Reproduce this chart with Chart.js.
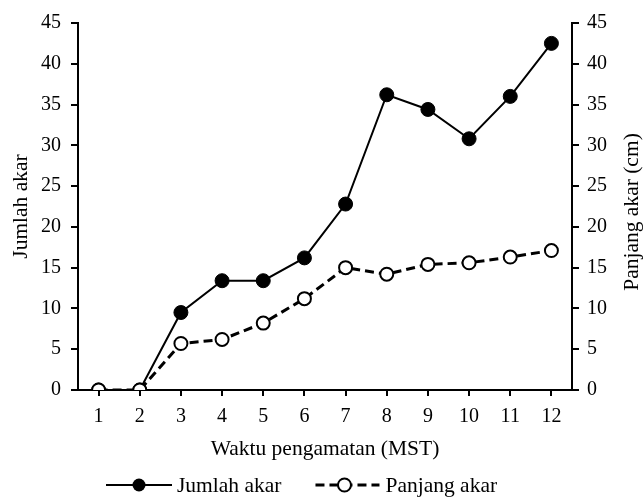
<!DOCTYPE html>
<html>
<head>
<meta charset="utf-8">
<script src="https://cdn.jsdelivr.net/npm/chart.js@4"></script>
<style>
  html, body { margin: 0; padding: 0; background: #fff; }
  #wrap { width: 643px; height: 500px; }
</style>
</head>
<body>
<div id="wrap"><canvas id="rootChart" width="643" height="500"></canvas></div>
<script>
// data
const weeks = ['1', '2', '3', '4', '5', '6', '7', '8', '9', '10', '11', '12'];
const jumlahAkar = [0, 0, 9.5, 13.4, 13.4, 16.2, 22.8, 36.2, 34.4, 30.8, 36.0, 42.5];
const panjangAkar = [0, 0, 5.7, 6.2, 8.2, 11.2, 15.0, 14.2, 15.4, 15.6, 16.3, 17.1];
const yTicks = [0, 5, 10, 15, 20, 25, 30, 35, 40, 45];

const jumlahLabel = 'Jumlah akar';
const panjangLabel = 'Panjang akar';
const rightTitle = 'Panjang akar (cm)';

const FONT = 'Liberation Serif';
const tickFont = { family: FONT, size: 20 };
const titleFont = { family: FONT, size: 21.5 };
const fontStr = '21.5px "' + FONT + '"';

function yAxis(position, title, width, tickPad, titlePad) {
  return {
    type: 'linear',
    position: position,
    min: 0,
    max: 45,
    afterBuildTicks: (s) => { s.ticks = yTicks.map(v => ({ value: v })); },
    afterFit: (s) => { s.width = width; },
    grid: { drawOnChartArea: false, drawTicks: true, tickLength: 7, color: '#000', lineWidth: 2 },
    border: { display: true, color: '#000', width: 2 },
    ticks: { color: '#000', font: tickFont, padding: tickPad },
    title: { display: !!title, text: title, color: '#000', font: titleFont, padding: { top: titlePad, bottom: 0 } }
  };
}

// right title reads bottom-to-top in the original, and the legend
// has line+marker icons, so both are drawn here
const extras = {
  id: 'extras',
  afterDraw(chart) {
    const ctx = chart.ctx;
    ctx.save();
    ctx.font = fontStr;
    ctx.fillStyle = '#000';
    ctx.strokeStyle = '#000';

    // right axis title
    ctx.save();
    ctx.translate(632, 212);
    ctx.rotate(-Math.PI / 2);
    ctx.textAlign = 'center';
    ctx.textBaseline = 'middle';
    ctx.fillText(rightTitle, 0, 0);
    ctx.restore();

    // legend
    const y = 485;
    const w1 = ctx.measureText(jumlahLabel).width;
    let x = 106;
    ctx.textBaseline = 'middle';

    ctx.lineWidth = 2;
    ctx.beginPath(); ctx.moveTo(x, y); ctx.lineTo(x + 66, y); ctx.stroke();
    ctx.beginPath(); ctx.arc(x + 33, y, 6.5, 0, Math.PI * 2);
    ctx.fill();
    ctx.fillText(jumlahLabel, x + 71, y + 1);

    x += 71 + w1 + 34;
    ctx.lineWidth = 3;
    ctx.setLineDash([9, 5]);
    ctx.beginPath(); ctx.moveTo(x, y); ctx.lineTo(x + 64, y); ctx.stroke();
    ctx.setLineDash([]);
    ctx.beginPath(); ctx.arc(x + 29, y, 6.5, 0, Math.PI * 2);
    ctx.fillStyle = '#fff'; ctx.fill();
    ctx.lineWidth = 2; ctx.stroke();
    ctx.fillStyle = '#000';
    ctx.fillText(panjangLabel, x + 70, y + 1);
    ctx.restore();
  }
};

new Chart(document.getElementById('rootChart'), {
  type: 'line',
  data: {
    labels: weeks,
    datasets: [
      {
        label: jumlahLabel,
        data: jumlahAkar,
        yAxisID: 'y',
        borderColor: '#000',
        borderWidth: 2,
        pointRadius: 7,
        pointBackgroundColor: '#000',
        pointBorderColor: '#000',
        pointBorderWidth: 1,
        tension: 0,
        order: 1
      },
      {
        label: panjangLabel,
        data: panjangAkar,
        yAxisID: 'y1',
        borderColor: '#000',
        borderWidth: 3,
        borderDash: [9, 5],
        pointRadius: 6.5,
        pointBackgroundColor: '#fff',
        pointBorderColor: '#000',
        pointBorderWidth: 2,
        tension: 0,
        order: 0
      }
    ]
  },
  options: {
    responsive: false,
    animation: false,
    layout: { padding: { top: 23, left: 0, right: 0, bottom: 38 } },
    scales: {
      x: {
        offset: true,
        afterFit: (s) => { s.height = 72; },
        grid: { offset: false, drawOnChartArea: false, drawTicks: true, tickLength: 6, color: '#000', lineWidth: 2 },
        border: { display: true, color: '#000', width: 2 },
        ticks: { color: '#000', font: tickFont, padding: 9, maxRotation: 0 },
        title: { display: true, text: 'Waktu pengamatan (MST)', color: '#000', font: titleFont, padding: { top: 4, bottom: 0 } }
      },
      y: yAxis('left', 'Jumlah akar', 78, 10, 8),
      y1: yAxis('right', '', 71, 8, 0)
    },
    plugins: {
      legend: { display: false },
      tooltip: { enabled: false }
    }
  },
  plugins: [extras]
});
</script>
</body>
</html>
